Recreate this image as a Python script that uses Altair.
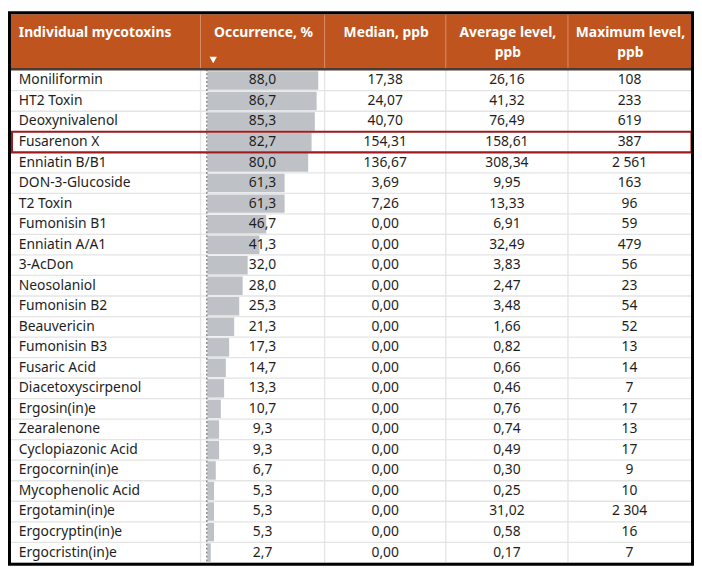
import altair as alt
import pandas as pd

names = ["Moniliformin", "HT2 Toxin", "Deoxynivalenol", "Fusarenon X", "Enniatin B/B1",
         "DON-3-Glucoside", "T2 Toxin", "Fumonisin B1", "Enniatin A/A1", "3-AcDon",
         "Neosolaniol", "Fumonisin B2", "Beauvericin", "Fumonisin B3", "Fusaric Acid",
         "Diacetoxyscirpenol", "Ergosin(in)e", "Zearalenone", "Cyclopiazonic Acid",
         "Ergocornin(in)e", "Mycophenolic Acid", "Ergotamin(in)e", "Ergocryptin(in)e",
         "Ergocristin(in)e"]
occurrence = [88.0, 86.7, 85.3, 82.7, 80.0, 61.3, 61.3, 46.7, 41.3, 32.0, 28.0, 25.3,
              21.3, 17.3, 14.7, 13.3, 10.7, 9.3, 9.3, 6.7, 5.3, 5.3, 5.3, 2.7]
median = [17.38, 24.07, 40.70, 154.31, 136.67, 3.69, 7.26, 0.00, 0.00, 0.00, 0.00, 0.00,
          0.00, 0.00, 0.00, 0.00, 0.00, 0.00, 0.00, 0.00, 0.00, 0.00, 0.00, 0.00]
average = [26.16, 41.32, 76.49, 158.61, 308.34, 9.95, 13.33, 6.91, 32.49, 3.83, 2.47, 3.48,
           1.66, 0.82, 0.66, 0.46, 0.76, 0.74, 0.49, 0.30, 0.25, 31.02, 0.58, 0.17]
maximum = [108, 233, 619, 387, 2561, 163, 96, 59, 479, 56, 23, 54, 52, 13, 14, 7, 17, 13,
           17, 9, 10, 2304, 16, 7]
headers = ["Individual mycotoxins", "Occurrence, %", "Median, ppb",
           "Average level,\nppb", "Maximum level,\nppb"]
highlight = "Fusarenon X"


def dec(v, n):
    return f"{v:.{n}f}".replace(".", ",")


def thousands(v):
    return f"{v:,}".replace(",", " ")


df = pd.DataFrame({
    "name": names,
    "occ": occurrence,
    "occ_t": [dec(v, 1) for v in occurrence],
    "med_t": [dec(v, 2) for v in median],
    "avg_t": [dec(v, 2) for v in average],
    "max_t": [thousands(v) for v in maximum],
})

# ---- layout (reference pixel coords, scaled to the drawable area) ----
W, H = 694, 561
SX, SY = W / 702, H / 569


def fx(v):
    return v * SX


def fy(v):
    return v * SY


edges = [3, 197, 324, 448, 573, 699]
centers = [(edges[i] + edges[i + 1]) / 2 for i in range(5)]
HEADER_BOTTOM = 58.5
ROW_TOP, ROW_BOTTOM = 60.5, 566

FONT = "Noto Sans"
ORANGE = "#C0541E"
TEXT = "#1E1E1E"
GRID = "#E4E4E4"

one = pd.DataFrame({"k": [0]})

yscale = alt.Scale(domain=names, range=[fy(ROW_TOP), fy(ROW_BOTTOM)],
                   paddingInner=0, paddingOuter=0)
Y = alt.Y("name:N", scale=yscale, axis=None, sort=names)

layers = []

# header background
layers.append(alt.Chart(one).mark_rect(color=ORANGE).encode(
    x=alt.value(fx(3)), x2=alt.value(fx(699)),
    y=alt.value(fy(3)), y2=alt.value(fy(HEADER_BOTTOM))))

# header separators
for e in edges[1:-1]:
    layers.append(alt.Chart(one).mark_rule(color="#DA8D69", strokeWidth=1).encode(
        x=alt.value(fx(e)), y=alt.value(fy(3)), y2=alt.value(fy(HEADER_BOTTOM))))

# row separator lines
layers.append(alt.Chart(df).mark_rule(color=GRID, strokeWidth=1.3).encode(
    y=alt.Y("name:N", scale=yscale, axis=None, sort=names, bandPosition=1),
    x=alt.value(fx(3)), x2=alt.value(fx(699))))

# vertical body lines
for e in edges[1:-1]:
    layers.append(alt.Chart(one).mark_rule(color=GRID, strokeWidth=1.3).encode(
        x=alt.value(fx(e)), y=alt.value(fy(HEADER_BOTTOM)), y2=alt.value(fy(ROW_BOTTOM))))

# data bars
layers.append(alt.Chart(df).mark_bar(color="#BEC2C7", height={"band": 0.9}).encode(
    x=alt.X("occ:Q", scale=alt.Scale(domain=[0, 88], range=[fx(204), fx(317.5)]), axis=None),
    y=Y))

# dashed zero line
layers.append(alt.Chart(one).mark_rule(color="#555555", strokeWidth=1, strokeDash=[2, 2]).encode(
    x=alt.value(fx(203.5)), y=alt.value(fy(HEADER_BOTTOM + 1)), y2=alt.value(fy(ROW_BOTTOM))))

# header bottom line
layers.append(alt.Chart(one).mark_rule(color="#4B3B33", strokeWidth=2.5).encode(
    x=alt.value(fx(3)), x2=alt.value(fx(699)), y=alt.value(fy(59.5))))

# body text
layers.append(alt.Chart(df).mark_text(align="left", baseline="middle", font=FONT,
                                      fontSize=14, color=TEXT).encode(
    x=alt.value(fx(11)), y=Y, text="name:N"))
for col, c in zip(["occ_t", "med_t", "avg_t", "max_t"], centers[1:]):
    layers.append(alt.Chart(df).mark_text(align="center", baseline="middle", font=FONT,
                                          fontSize=14, color=TEXT).encode(
        x=alt.value(fx(c)), y=Y, text=f"{col}:N"))

# highlight box
layers.append(alt.Chart(df).transform_filter(alt.datum.name == highlight).mark_rect(
    fillOpacity=0, stroke="#A01B1F", strokeWidth=2.2).encode(
    x=alt.value(fx(4)), x2=alt.value(fx(699.5)), y=Y))

# header texts
hdr = pd.DataFrame({"h": headers})
for i, h in enumerate(headers):
    if i == 0:
        mk = dict(align="left")
        xv = fx(11)
    else:
        mk = dict(align="center")
        xv = fx(centers[i] + 1)
    layers.append(alt.Chart(hdr).transform_filter(alt.datum.h == h).mark_text(
        baseline="alphabetic", font=FONT, fontSize=14, fontWeight="bold", color="white",
        lineBreak="\n", lineHeight=21, **mk).encode(
        x=alt.value(xv), y=alt.value(fy(26)), text="h:N"))

# sort indicator
layers.append(alt.Chart(one).mark_point(shape="triangle-down", filled=True, color="white",
                                        size=55, opacity=1).encode(
    x=alt.value(fx(210)), y=alt.value(fy(50))))

# outer border
layers.append(alt.Chart(one).mark_rect(fillOpacity=0, stroke="black", strokeWidth=3).encode(
    x=alt.value(1.5), x2=alt.value(W - 1.5), y=alt.value(1.5), y2=alt.value(H - 1.5)))

chart = alt.layer(*layers).properties(
    width=W, height=H, padding=0, autosize=alt.AutoSizeParams(type="none")
).configure_view(strokeWidth=0)

chart.save("out.html", embed_options={"renderer": "svg", "actions": False})
